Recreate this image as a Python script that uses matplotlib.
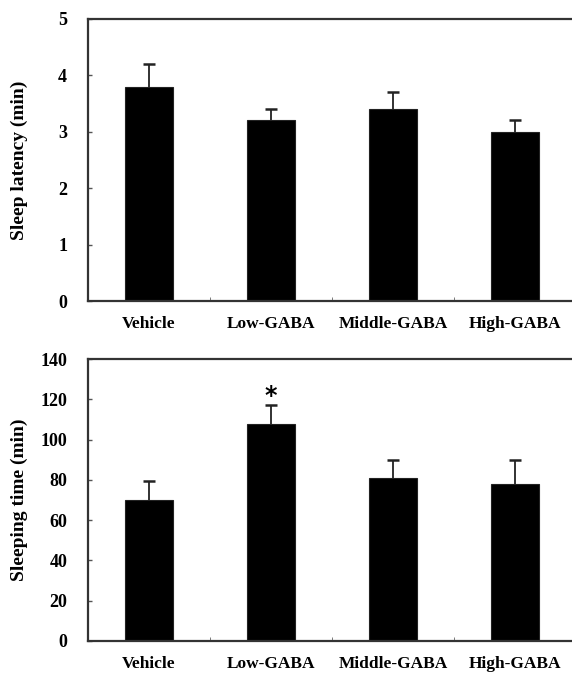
import matplotlib.pyplot as plt
import numpy as np

# datos
groups = ["Vehicle", "Low-GABA", "Middle-GABA", "High-GABA"]
latency = [3.8, 3.2, 3.4, 3.0]
latency_err = [0.4, 0.2, 0.3, 0.2]
sleep_time = [70, 108, 81, 78]
sleep_err = [9.5, 9, 9, 12]
sig_marks = ["", "*", "", ""]

plt.rcParams['font.family'] = ['Liberation Serif', 'DejaVu Serif']
plt.rcParams['font.weight'] = 'bold'

fig = plt.figure(figsize=(5.72, 6.75), dpi=100)
ax1 = fig.add_axes([0.1538, 0.554, 0.853, 0.418])
ax2 = fig.add_axes([0.1538, 0.0504, 0.853, 0.4176])

x = np.arange(len(groups))


def draw_panel(ax, vals, errs, ylim, yticks, ylabel):
    ax.bar(x, vals, width=0.39, color='black', edgecolor='#222222', linewidth=0.8)
    # solo barra de error hacia arriba
    _, caps, _ = ax.errorbar(x, vals, yerr=[np.zeros(len(errs)), errs], fmt='none',
                             ecolor='#222222', elinewidth=1.3, capsize=4, capthick=1.8)
    caps[0].set_visible(False)
    ax.set_xlim(-0.5, len(groups) - 0.5)
    ax.set_ylim(*ylim)
    ax.set_yticks(yticks)
    ax.set_xticks(x)
    ax.set_xticklabels(groups, fontsize=12.5, fontweight='bold')
    ax.set_xticks(np.arange(0.5, len(groups) - 0.5, 1), minor=True)
    ax.tick_params(axis='x', which='major', length=0, pad=11)
    ax.tick_params(axis='x', which='minor', direction='in', length=3, color='#666666')
    ax.tick_params(axis='y', direction='in', length=3, width=1, labelsize=13, pad=15,
                   color='#555555')
    for lab in ax.get_yticklabels():
        lab.set_fontweight('bold')
    for side in ['left', 'bottom', 'top']:
        ax.spines[side].set_linewidth(1.6)
        ax.spines[side].set_color('#333333')
    ax.spines['right'].set_visible(False)
    ax.set_ylabel(ylabel, fontsize=14, fontweight='bold')
    ax.yaxis.set_label_coords(-0.123, 0.5)


draw_panel(ax1, latency, latency_err, (0, 5), range(0, 6), 'Sleep latency (min)')
draw_panel(ax2, sleep_time, sleep_err, (0, 140), range(0, 141, 20), 'Sleeping time (min)')

for i, m in enumerate(sig_marks):
    if m:
        ax2.text(x[i], sleep_time[i] + sleep_err[i] + 4.5, m, ha='center', va='center',
                 fontsize=17, fontweight='bold', family='DejaVu Sans')

fig.savefig('out.png', dpi=100)
